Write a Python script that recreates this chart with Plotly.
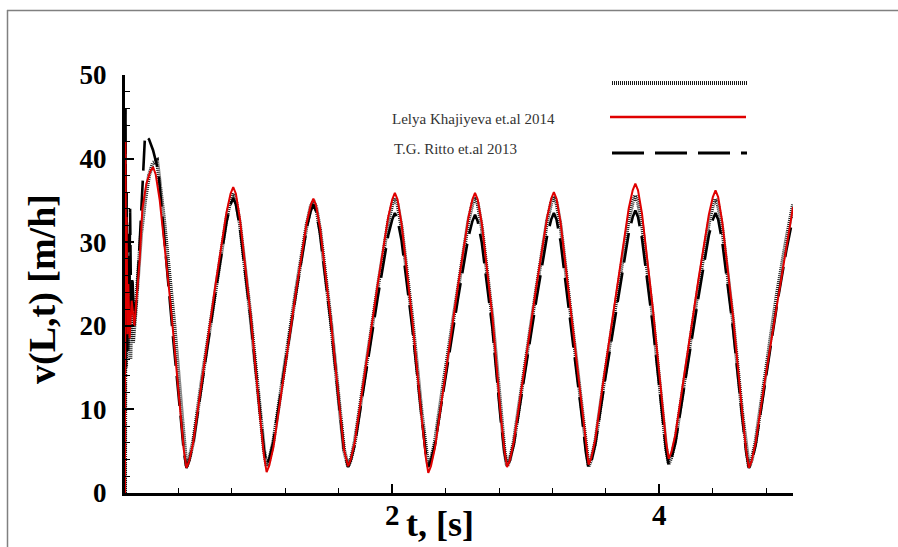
import plotly.graph_objects as go

# ---------------- data ----------------
# shared time grid for the periodic part (s)
T_PERIODIC = [0.46, 0.48, 0.51, 0.58, 0.68, 0.76, 0.79, 0.81, 0.83, 0.86, 0.94, 1.01, 1.04,
              1.06, 1.08, 1.11, 1.18, 1.28, 1.36, 1.39, 1.41, 1.43, 1.46, 1.54, 1.61, 1.64,
              1.67, 1.69, 1.72, 1.79, 1.89, 1.97, 2.00, 2.02, 2.04, 2.07, 2.15, 2.22, 2.25,
              2.27, 2.29, 2.32, 2.39, 2.49, 2.57, 2.60, 2.62, 2.64, 2.67, 2.75, 2.81, 2.84,
              2.86, 2.88, 2.91, 2.98, 3.08, 3.16, 3.19, 3.21, 3.23, 3.26, 3.34, 3.42, 3.45,
              3.47, 3.49, 3.52, 3.59, 3.69, 3.77, 3.80, 3.82, 3.84, 3.87, 3.95, 4.02, 4.05,
              4.07, 4.09, 4.12, 4.19, 4.29, 4.37, 4.40, 4.42, 4.44, 4.47, 4.55, 4.62, 4.65,
              4.67, 4.69, 4.72, 4.79, 4.88, 4.95, 5.00]

# series 1: black dotted (unlabelled in the legend)
t_dot_start = [0.0, 0.004, 0.008, 0.012, 0.02, 0.03, 0.04, 0.05, 0.06, 0.08,
               0.10, 0.12, 0.15, 0.18, 0.21, 0.24, 0.29, 0.37, 0.43, 0.445]
v_dot_start = [0, 36, 15, 30, 17, 26, 16, 24, 18, 22,
               27, 31, 35, 38, 39.5, 39.8, 33, 20, 8.5, 5.3]
v_dot = [3.2, 4.0, 6.1, 14.0, 24.7, 32.9, 35.0, 35.8, 35.0, 32.2, 21.1, 9.7, 5.2,
         3.2, 4.0, 6.1, 13.7, 24.2, 32.1, 34.2, 35.0, 34.2, 31.5, 20.7, 9.6, 5.1,
         3.2, 4.0, 6.1, 13.8, 24.4, 32.4, 34.5, 35.3, 34.5, 31.8, 20.9, 9.6, 5.1,
         3.2, 4.0, 6.1, 13.8, 24.5, 32.5, 34.6, 35.4, 34.6, 31.9, 20.9, 9.6, 5.1,
         3.2, 4.0, 6.1, 13.9, 24.5, 32.6, 34.7, 35.5, 34.7, 32.0, 21.0, 9.7, 5.1,
         3.2, 4.0, 6.1, 13.9, 24.6, 32.7, 34.8, 35.6, 34.8, 32.1, 21.2, 9.9, 5.4,
         3.5, 4.3, 6.4, 14.0, 24.4, 32.3, 34.4, 35.2, 34.4, 31.7, 20.8, 9.5, 5.0,
         3.1, 3.9, 6.1, 13.8, 23.8, 30.3, 34.5]

# series 2: Lelya Khajiyeva et.al 2014 (red solid)
t_red_start = [0.0, 0.003, 0.008, 0.012, 0.018, 0.025, 0.035, 0.05, 0.07, 0.09,
               0.11, 0.13, 0.16, 0.19, 0.21, 0.23, 0.26, 0.34, 0.41, 0.44]
v_red_start = [0, 42, 27, 33, 19, 25, 18.5, 23, 20, 24,
               28, 34, 37, 38.5, 39, 38.1, 35.0, 22.8, 10.0, 5.2]
v_red = [3.0, 3.8, 6.0, 14.1, 25.2, 33.6, 35.8, 36.6, 35.8, 32.8, 21.3, 9.3, 4.5,
         2.5, 3.3, 5.4, 13.3, 24.1, 32.3, 34.4, 35.2, 34.4, 31.7, 20.8, 9.6, 5.1,
         3.2, 4.0, 6.1, 14.0, 24.8, 33.0, 35.1, 35.9, 35.1, 32.2, 20.8, 9.1, 4.4,
         2.4, 3.2, 5.4, 13.5, 24.5, 32.9, 35.1, 35.9, 35.1, 32.3, 21.1, 9.7, 5.1,
         3.1, 3.9, 6.1, 14.0, 24.8, 33.0, 35.2, 36.0, 35.2, 32.4, 21.3, 9.9, 5.4,
         3.4, 4.2, 6.4, 14.5, 25.6, 34.0, 36.2, 37.0, 36.2, 33.4, 22.2, 10.7, 6.1,
         4.1, 4.9, 7.0, 14.7, 25.3, 33.3, 35.4, 36.2, 35.4, 32.5, 21.3, 9.6, 5.0,
         3.0, 3.8, 6.0, 13.5, 22.5, 29.5, 34.2]

# series 3: T.G. Ritto et.al 2013 (black dashed)
t_dash_start = [0.0, 0.004, 0.008, 0.012, 0.016, 0.022, 0.03, 0.038, 0.046, 0.055,
                0.07, 0.09, 0.11, 0.13, 0.15, 0.18, 0.21, 0.25, 0.30, 0.36, 0.42, 0.44]
v_dash_start = [0, 46, 22, 36, 17, 31, 19, 34, 21, 26,
                20, 24, 30, 37, 42.8, 42.3, 41, 38.5, 29, 18.5, 8.5, 5.0]
v_dash = [3.0, 3.8, 5.9, 13.7, 24.3, 32.4, 34.5, 35.3, 34.5, 31.8, 20.9, 9.7, 5.2,
          3.3, 4.1, 6.1, 13.6, 23.9, 31.7, 33.7, 34.5, 33.7, 31.0, 20.4, 9.4, 5.0,
          3.1, 3.9, 5.8, 13.1, 23.2, 30.8, 32.7, 33.5, 32.7, 30.2, 19.8, 9.2, 4.9,
          3.1, 3.9, 5.8, 13.1, 23.0, 30.6, 32.5, 33.3, 32.5, 30.0, 19.7, 9.1, 4.9,
          3.1, 3.9, 5.8, 13.1, 23.2, 30.8, 32.7, 33.5, 32.7, 30.1, 19.8, 9.1, 4.8,
          3.0, 3.8, 5.8, 13.2, 23.3, 31.0, 33.0, 33.8, 33.0, 30.4, 20.1, 9.4, 5.1,
          3.3, 4.1, 6.0, 13.3, 23.2, 30.8, 32.7, 33.5, 32.7, 30.1, 19.8, 9.1, 4.8,
          3.0, 3.8, 5.7, 12.8, 22.5, 29.0, 33.0]

legend_labels = ["", "Lelya Khajiyeva et.al 2014", "T.G. Ritto et.al 2013"]
x_ticks = [2, 4]
y_ticks = [0, 10, 20, 30, 40, 50]

# ---------------- layout geometry (pixels) ----------------
W, H = 898, 547
L, R, TOP, BOT = 125, 793, 75, 493


def px(x):
    return (x - L) / (R - L)


def py(y):
    return (BOT - y) / (BOT - TOP)


SERIF = "Liberation Serif"
DOT_COLOR = "#1a1a1a"
RED = "#e00000"

fig = go.Figure()
fig.add_trace(go.Scatter(x=t_dot_start + T_PERIODIC, y=v_dot_start + v_dot, mode="lines",
                         line=dict(color=DOT_COLOR, width=4, dash="1px,1px"),
                         showlegend=False))
fig.add_trace(go.Scatter(x=t_dash_start + T_PERIODIC, y=v_dash_start + v_dash, mode="lines",
                         line=dict(color="black", width=2.6, dash="30px,10px"),
                         showlegend=False))
fig.add_trace(go.Scatter(x=t_red_start + T_PERIODIC, y=v_red_start + v_red, mode="lines",
                         line=dict(color=RED, width=2),
                         showlegend=False))

fig.update_layout(
    width=W, height=H,
    margin=dict(l=L, r=W - R, t=TOP, b=H - BOT),
    paper_bgcolor="white", plot_bgcolor="white",
    showlegend=False,
    xaxis=dict(range=[0, 5], showgrid=False, zeroline=False, automargin=False,
               showline=True, linecolor="black", linewidth=3,
               tickmode="array", tickvals=x_ticks, showticklabels=False,
               ticks="inside", ticklen=9, tickwidth=2, tickcolor="black",
               minor=dict(dtick=0.4, tick0=0, ticks="inside", ticklen=5,
                          tickwidth=1.2, tickcolor="black")),
    yaxis=dict(range=[0, 50], showgrid=False, zeroline=False, automargin=False,
               showline=True, linecolor="black", linewidth=3,
               tickmode="array", tickvals=y_ticks, ticktext=[str(v) for v in y_ticks],
               ticks="inside", ticklen=9, tickwidth=2, tickcolor="black",
               minor=dict(dtick=2, tick0=0, ticks="inside", ticklen=5,
                          tickwidth=1.2, tickcolor="black"),
               tickfont=dict(family=SERIF, size=27, color="black", weight="bold"),
               ticklabelstandoff=10),
)

shapes = [
    # outer frame of the figure (top and left edges visible)
    dict(type="line", xref="paper", yref="paper", x0=px(7), x1=px(900), y0=py(10.5), y1=py(10.5),
         line=dict(color="#808080", width=1.5), layer="below"),
    dict(type="line", xref="paper", yref="paper", x0=px(7.5), x1=px(7.5), y0=py(10), y1=py(560),
         line=dict(color="#808080", width=1.5), layer="below"),
    # legend samples
    dict(type="line", xref="paper", yref="paper", x0=px(612), x1=px(747), y0=py(83), y1=py(83),
         line=dict(color=DOT_COLOR, width=4, dash="1px,1px")),
    dict(type="line", xref="paper", yref="paper", x0=px(610), x1=px(746), y0=py(117), y1=py(117),
         line=dict(color=RED, width=2.5)),
    dict(type="line", xref="paper", yref="paper", x0=px(612), x1=px(747), y0=py(153), y1=py(153),
         line=dict(color="black", width=3, dash="32px,11px")),
]

annotations = [
    dict(text=legend_labels[1], xref="paper", yref="paper", x=px(390), y=py(119),
         xanchor="left", yanchor="middle", showarrow=False,
         font=dict(family=SERIF, size=15, color="#333333")),
    dict(text=legend_labels[2], xref="paper", yref="paper", x=px(392), y=py(149),
         xanchor="left", yanchor="middle", showarrow=False,
         font=dict(family=SERIF, size=15, color="#333333")),
    dict(text="v(L,t) [m/h]", xref="paper", yref="paper", x=px(42), y=py(289),
         xanchor="center", yanchor="middle", textangle=-90, showarrow=False,
         font=dict(family=SERIF, size=38, color="black", weight="bold")),
    dict(text="t, [s]", xref="paper", yref="paper", x=px(440), y=py(524),
         xanchor="center", yanchor="middle", showarrow=False,
         font=dict(family=SERIF, size=36, color="black", weight="bold")),
]
# x tick labels placed under their ticks
for xv in x_ticks:
    annotations.append(dict(text=str(xv), xref="x", yref="paper", x=xv, y=py(515),
                            xanchor="center", yanchor="middle", showarrow=False,
                            font=dict(family=SERIF, size=29, color="black", weight="bold")))

fig.update_layout(shapes=shapes, annotations=annotations)

fig.write_html("out.html")
